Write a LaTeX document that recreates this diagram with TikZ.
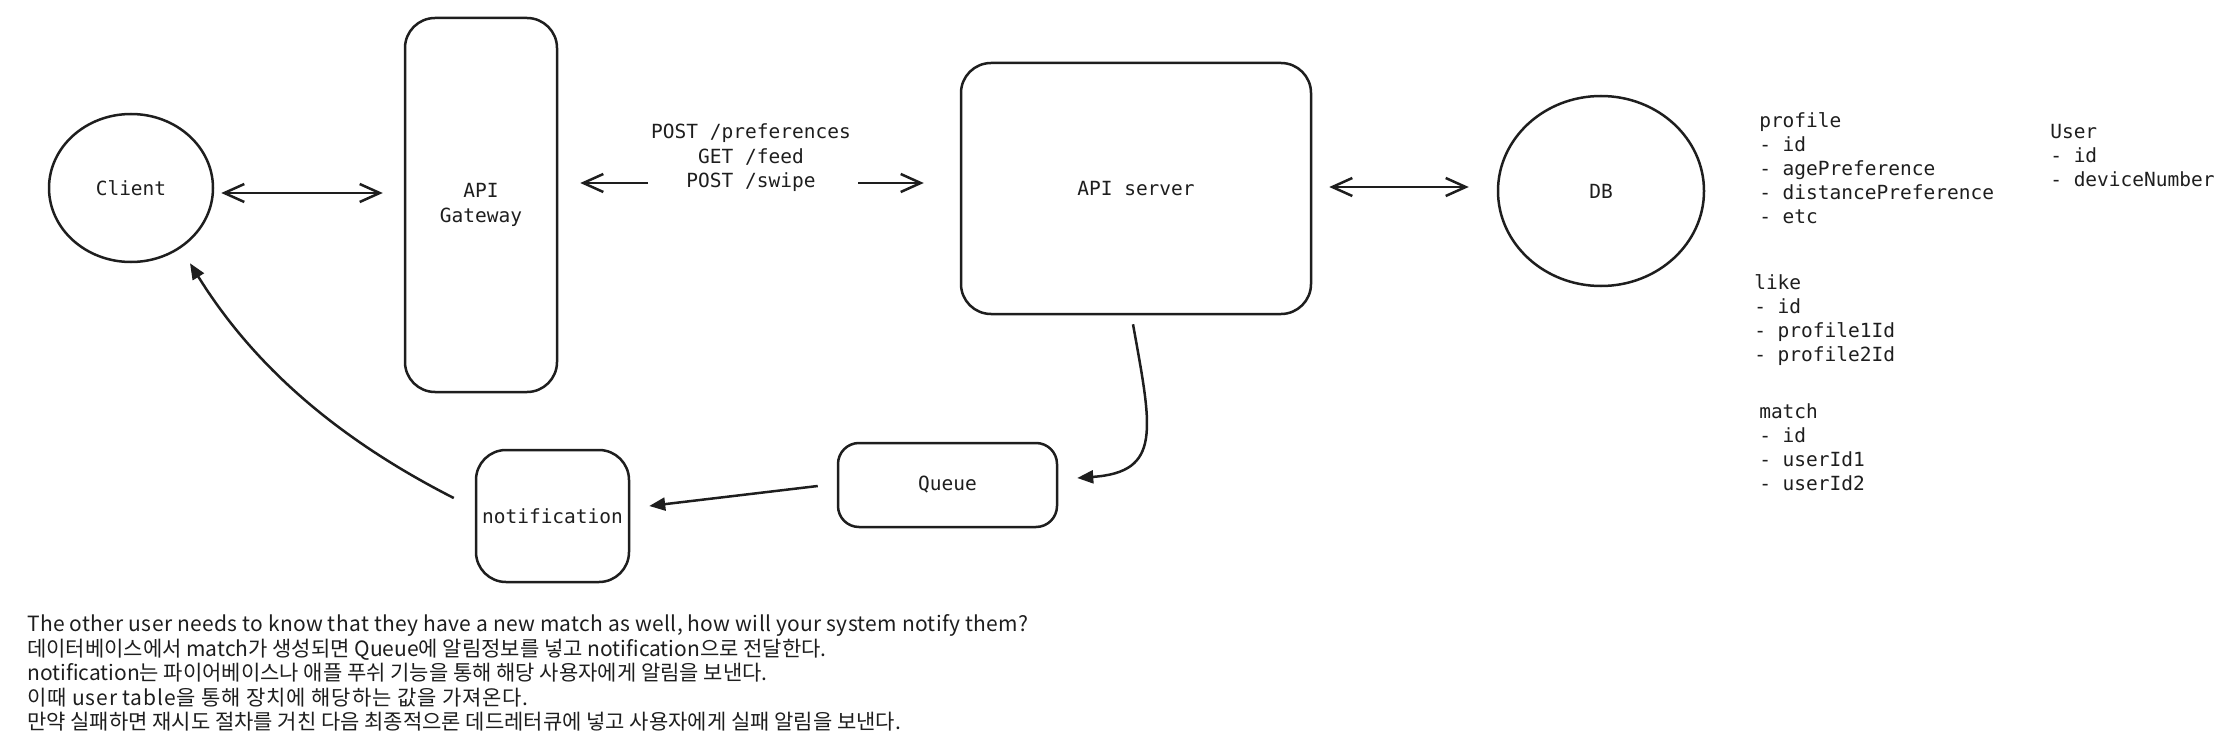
\documentclass[tikz,border=0pt]{standalone}
\usepackage{fontspec}
\setmonofont{DejaVu Sans Mono}
\newfontfamily\kofont{Noto Sans CJK KR}
\usetikzlibrary{arrows.meta,shapes.geometric,calc}
\definecolor{ink}{HTML}{1E1E1E}
\begin{document}
\begin{tikzpicture}[x=1pt,y=-1pt, line width=2.5pt, draw=ink,
  lbl/.style={font=\ttfamily\fontsize{19.5}{24.5}\selectfont, text=ink, inner sep=0pt},
  rbox/.style={draw=ink, rectangle, rounded corners=30pt, inner sep=0pt, lbl, align=center},
  oval/.style={draw=ink, ellipse, inner sep=0pt, lbl},
  dbl/.style={{Straight Barb[length=20pt,width=18pt]}-{Straight Barb[length=20pt,width=18pt]}},
  one/.style={-{Straight Barb[length=20pt,width=18pt]}},
  fillarr/.style={-{Triangle[length=16pt,width=13pt]}},
  tbl/.style={font=\ttfamily\fontsize{19.5}{24}\selectfont, text=ink, inner sep=0pt, align=left, anchor=north west},
  note/.style={font=\kofont\fontsize{21}{24}\selectfont, text=ink, inner sep=0pt, anchor=base west}]
\useasboundingbox (0,0) rectangle (2230,746);

% nodes
\node[oval, minimum width=164pt, minimum height=148pt] (client) at (131,188) {Client};
\node[rbox, minimum width=152pt, minimum height=374pt] (gw) at (481,205) {API\\Gateway};
\node[rbox, minimum width=350pt, minimum height=251pt] (srv) at (1136,188.5) {API server};
\node[oval, minimum width=206pt, minimum height=190pt] (db) at (1601,191) {DB};
\node[rbox, rounded corners=21pt, minimum width=219pt, minimum height=84pt] (queue) at (947.5,485) {Queue};
\node[rbox, minimum width=153pt, minimum height=132pt] (notif) at (552.5,516) {notification};

% endpoint label
\node[lbl, align=center] (api) at (751,158) {POST /preferences\\GET /feed\\POST /swipe};

% connectors
\coordinate (cg) at (0,193);
\draw[dbl, shorten <=7pt, shorten >=21pt] (client.east |- cg) -- (gw.west |- cg);
\coordinate (la) at (648,183);
\coordinate (ra) at (858,183);
\draw[one, shorten >=22pt] (la) -- (la -| gw.east);
\draw[one, shorten >=36pt] (ra) -- (ra -| srv.west);
\coordinate (sd) at (0,187);
\draw[dbl, shorten <=17pt, shorten >=28pt] (srv.east |- sd) -- (db.west |- sd);
\draw[fillarr] ($(srv.south)+(-3,9)$) .. controls (1152,430) and (1162,472) .. ($(queue.east)+(19,-7)$);
\draw[fillarr] ($(queue.west)+(-19,1)$) -- ($(notif.east)+(19,-10)$);
\draw[fillarr] ($(notif.west)+(-21,-18)$) .. controls (330,435) and (250,360) .. ($(client.south)+(59,0)$);

% tables
\node[tbl] (profile) at (1758,111.5) {profile\\- id\\- agePreference\\- distancePreference\\- etc};
\node[tbl] (user) at (2049,123) {User\\- id\\- deviceNumber};
\node[tbl] (like) at (1753,273.5) {like\\- id\\- profile1Id\\- profile2Id};
\node[tbl] (match) at (1758,402.5) {match\\- id\\- userId1\\- userId2};

% notes
\node[note] (t1) at (26,631) {\addfontfeatures{LetterSpace=1.5}The other user needs to know that they have a new match as well, how will your system notify them?};
\node[note] (t2) at (26,656) {데이터베이스에서 match가 생성되면 Queue에 알림정보를 넣고 notification으로 전달한다.};
\node[note] (t3) at (26,680.5) {notification는 파이어베이스나 애플 푸쉬 기능을 통해 해당 사용자에게 알림을 보낸다.};
\node[note] (t4) at (26,705) {\addfontfeatures{LetterSpace=4}이때 user table을 통해 장치에 해당하는 값을 가져온다.};
\node[note] (t5) at (26,729.5) {만약 실패하면 재시도 절차를 거친 다음 최종적으론 데드레터큐에 넣고 사용자에게 실패 알림을 보낸다.};
\end{tikzpicture}
\end{document}
